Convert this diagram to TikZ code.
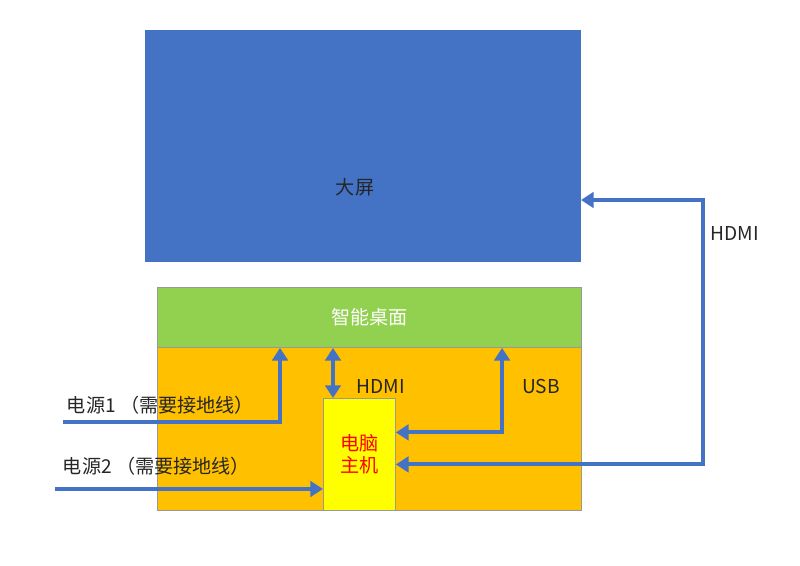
\documentclass[tikz,border=0pt]{standalone}
\usepackage{fontspec}
\setmainfont{Noto Sans CJK SC}
\usepackage{xcolor}
\definecolor{screenblue}{HTML}{4472C4}
\definecolor{deskgreen}{HTML}{92D050}
\definecolor{baseorange}{HTML}{FFC000}
\definecolor{pcyellow}{HTML}{FFFF00}
\definecolor{linkblue}{HTML}{4472C4}
\definecolor{textmain}{HTML}{262626}
\usetikzlibrary{arrows.meta, positioning, calc}

\begin{document}
\begin{tikzpicture}[
        x=0.025cm, y=-0.025cm,
        font=\fontsize{13.6}{16}\selectfont\color{textmain},
        panel/.style={
            rectangle,
            anchor=north west,
            inner sep=0pt,
            draw=gray!80,
            line width=0.6pt
        },
        link/.style={
            draw=linkblue,
            line width=2.8pt
        },
        tip/.style={
            -{Triangle[length=9pt, width=11pt]}
        },
        twotip/.style={
            {Triangle[length=9pt, width=11pt]}-{Triangle[length=9pt, width=11pt]}
        }
    ]
    \useasboundingbox (0,0) rectangle (800,565);

    % Panels
    \node[panel, draw=none, fill=screenblue, minimum width=10.875cm, minimum height=5.8cm] (screen) at (145,30) {};
    \node[panel, fill=deskgreen, minimum width=10.6cm, minimum height=1.5cm] (desk) at (157,287) {};
    \node[text=white] (desklabel) at (desk.center) {智能桌面};
    \node[panel, fill=baseorange, minimum width=10.6cm, minimum height=4.075cm] (base) at (157,347) {};
    \node[panel, fill=pcyellow, minimum width=1.8cm, minimum height=2.8cm] (pc) at (323,398) {};
    \node[text=red, align=center] (pclabel) at (pc.center) {电脑\\主机};

    % Labels
    \node (screenlabel) at (355,187) {大屏};
    \node (hdmilabel) at (381,386) {HDMI};
    \node (usblabel) at (541,386) {USB};
    \node (hdmiout) at (735,233) {HDMI};
    \node[anchor=west] (power1) at (62,405) {电源1 （需要接地线）};
    \node[anchor=west] (power2) at (58,466) {电源2 （需要接地线）};

    % Free ends
    \coordinate (pw1) at (63,422);
    \coordinate (pw2) at (55,489);
    \coordinate (bend) at (703,200);

    % Connectors
    \draw[link, tip] (pw1) -| ([xshift=3.075cm]desk.south west);
    \draw[link, tip] (pw2) -- (pw2 -| pc.west);
    \draw[link, twotip] ([xshift=0.25cm]pc.north west) -- ([xshift=0.25cm]pc.north west |- desk.south);
    \draw[link, twotip] ([yshift=0.55cm]pc.east) -| ([xshift=8.625cm]desk.south west);
    \draw[link, twotip] ([yshift=-0.25cm]pc.east) -| (bend) -- (bend -| screen.east);

\end{tikzpicture}
\end{document}
